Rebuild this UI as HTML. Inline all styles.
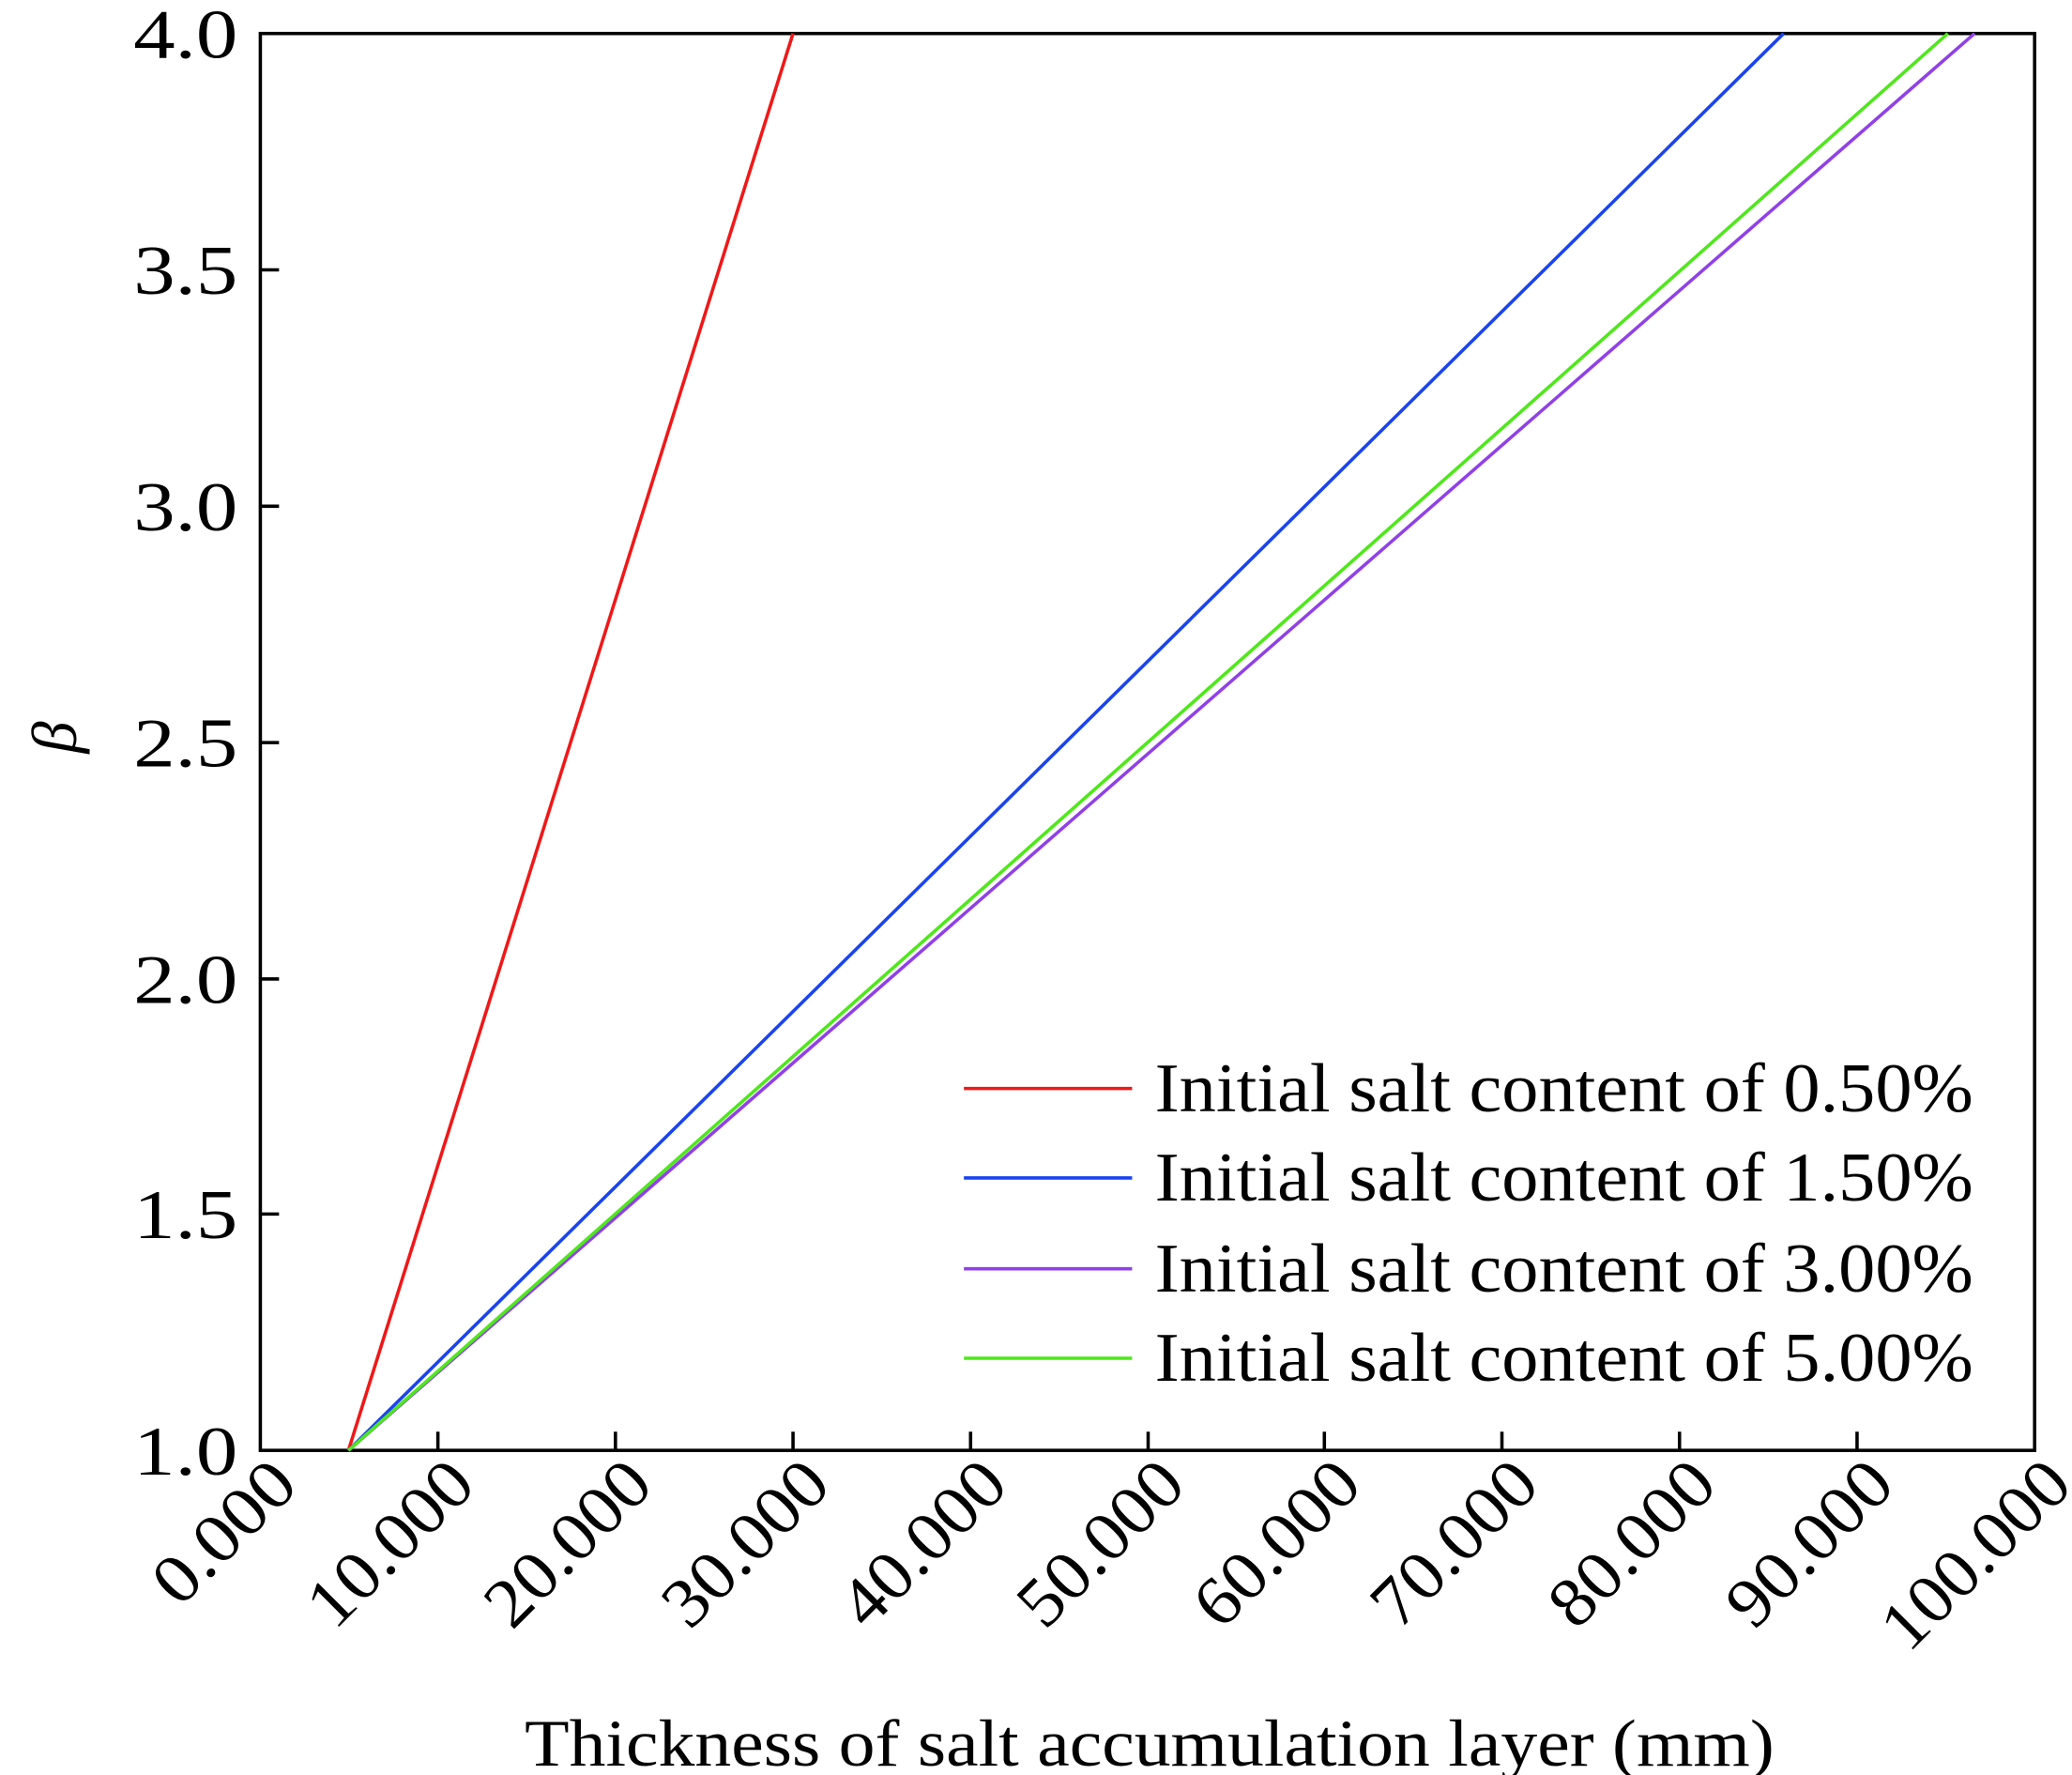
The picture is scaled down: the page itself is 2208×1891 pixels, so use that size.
<!DOCTYPE html>
<html><head><meta charset="utf-8"><style>html,body{margin:0;padding:0;background:#fff}svg{display:block}text{font-family:"Liberation Serif","Times New Roman",serif}</style></head>
<body>
<svg width="2208" height="1891" viewBox="0 0 1552 1329" xmlns="http://www.w3.org/2000/svg">
<rect width="1552" height="1329" fill="#fff"/>
<g stroke="#000" stroke-width="2.5" fill="none">
<rect x="195" y="25" width="1329" height="1061"/>
<path d="M328 1086v-14M461 1086v-14M594 1086v-14M727 1086v-14M860 1086v-14M992 1086v-14M1125 1086v-14M1258 1086v-14M1391 1086v-14"/>
<path d="M195 909h14M195 733h14M195 556h14M195 379h14M195 202h14"/>
</g>
<g font-size="52" text-anchor="end">
<text x="178" y="1104" textLength="78" lengthAdjust="spacingAndGlyphs">1.0</text>
<text x="178" y="927" textLength="78" lengthAdjust="spacingAndGlyphs">1.5</text>
<text x="178" y="751" textLength="78" lengthAdjust="spacingAndGlyphs">2.0</text>
<text x="178" y="574" textLength="78" lengthAdjust="spacingAndGlyphs">2.5</text>
<text x="178" y="397" textLength="78" lengthAdjust="spacingAndGlyphs">3.0</text>
<text x="178" y="220" textLength="78" lengthAdjust="spacingAndGlyphs">3.5</text>
<text x="178" y="43" textLength="78" lengthAdjust="spacingAndGlyphs">4.0</text>
</g>
<g font-size="52" text-anchor="end">
<text transform="translate(225,1114) rotate(-45)" textLength="128" lengthAdjust="spacingAndGlyphs">0.000</text>
<text transform="translate(358,1114) rotate(-45)" textLength="152" lengthAdjust="spacingAndGlyphs">10.000</text>
<text transform="translate(491,1114) rotate(-45)" textLength="152" lengthAdjust="spacingAndGlyphs">20.000</text>
<text transform="translate(624,1114) rotate(-45)" textLength="152" lengthAdjust="spacingAndGlyphs">30.000</text>
<text transform="translate(757,1114) rotate(-45)" textLength="152" lengthAdjust="spacingAndGlyphs">40.000</text>
<text transform="translate(890,1114) rotate(-45)" textLength="152" lengthAdjust="spacingAndGlyphs">50.000</text>
<text transform="translate(1022,1114) rotate(-45)" textLength="152" lengthAdjust="spacingAndGlyphs">60.000</text>
<text transform="translate(1155,1114) rotate(-45)" textLength="152" lengthAdjust="spacingAndGlyphs">70.000</text>
<text transform="translate(1288,1114) rotate(-45)" textLength="152" lengthAdjust="spacingAndGlyphs">80.000</text>
<text transform="translate(1421,1114) rotate(-45)" textLength="152" lengthAdjust="spacingAndGlyphs">90.000</text>
<text transform="translate(1554,1114) rotate(-45)" textLength="176" lengthAdjust="spacingAndGlyphs">100.000</text>
</g>
<text x="393" y="1322" font-size="50" textLength="936" lengthAdjust="spacingAndGlyphs">Thickness of salt accumulation layer (mm)</text>
<text transform="translate(57,552) rotate(-90)" font-size="48" font-style="italic" text-anchor="middle">β</text>
<g stroke-width="2.5" fill="none">
<line x1="261" y1="1086" x2="594" y2="25" stroke="#f01818"/>
<line x1="261" y1="1086" x2="1336" y2="25" stroke="#1a44f0"/>
<line x1="261" y1="1086" x2="1479" y2="25" stroke="#9140e8"/>
<line x1="261" y1="1086" x2="1459" y2="25" stroke="#4ee81a"/>
</g>
<g stroke-width="2.5">
<line x1="722" y1="815" x2="848" y2="815" stroke="#f01818"/>
<line x1="722" y1="882" x2="848" y2="882" stroke="#1a44f0"/>
<line x1="722" y1="950" x2="848" y2="950" stroke="#9140e8"/>
<line x1="722" y1="1017" x2="848" y2="1017" stroke="#4ee81a"/>
</g>
<g font-size="52">
<text x="865" y="832" textLength="613" lengthAdjust="spacingAndGlyphs">Initial salt content of 0.50%</text>
<text x="865" y="899" textLength="613" lengthAdjust="spacingAndGlyphs">Initial salt content of 1.50%</text>
<text x="865" y="967" textLength="613" lengthAdjust="spacingAndGlyphs">Initial salt content of 3.00%</text>
<text x="865" y="1034" textLength="613" lengthAdjust="spacingAndGlyphs">Initial salt content of 5.00%</text>
</g>
</svg>
</body></html>
